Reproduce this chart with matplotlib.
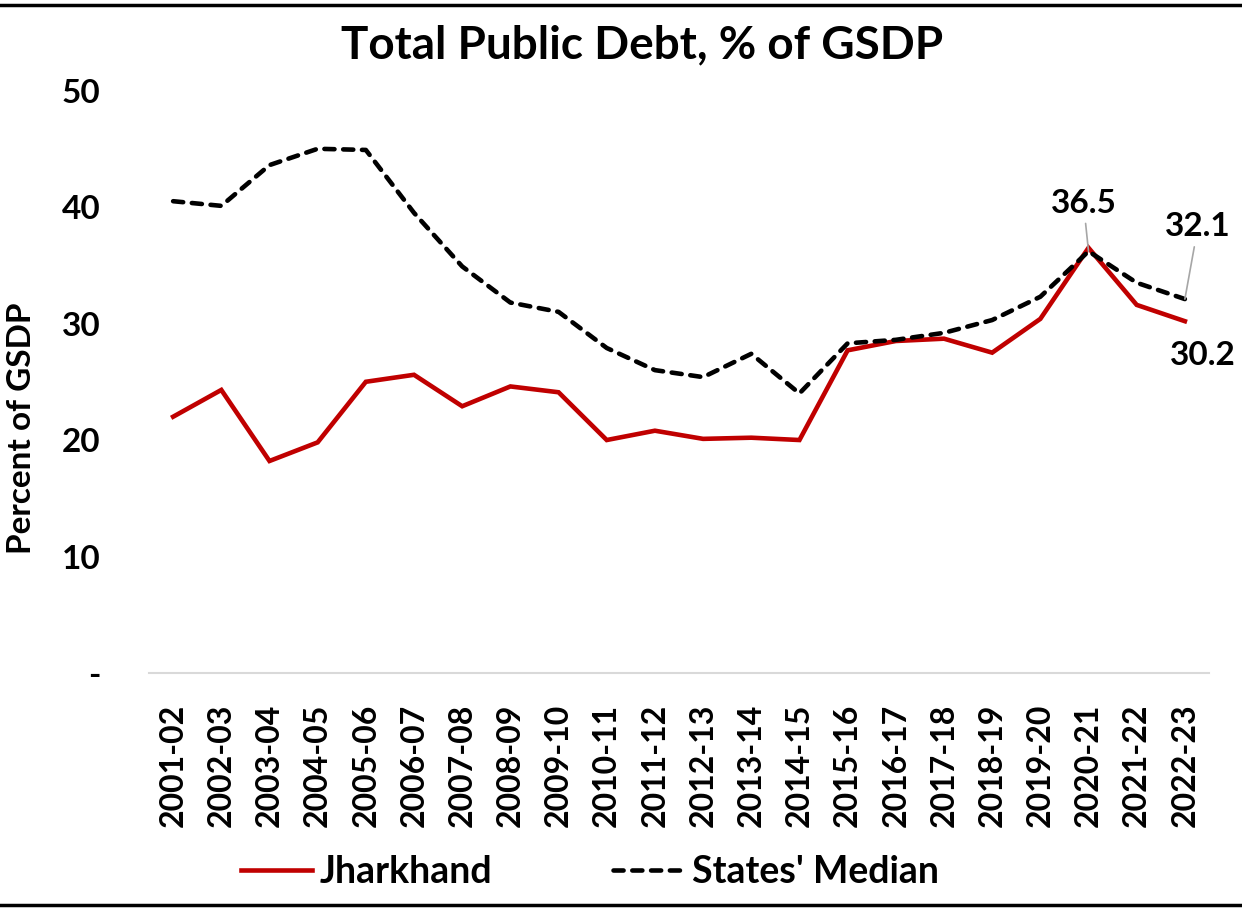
import matplotlib.pyplot as plt
from matplotlib.lines import Line2D

plt.rcParams["font.family"] = ["Lato", "DejaVu Sans"]
plt.rcParams["font.weight"] = "bold"

years = ["2001-02", "2002-03", "2003-04", "2004-05", "2005-06", "2006-07",
         "2007-08", "2008-09", "2009-10", "2010-11", "2011-12", "2012-13",
         "2013-14", "2014-15", "2015-16", "2016-17", "2017-18", "2018-19",
         "2019-20", "2020-21", "2021-22", "2022-23"]

jharkhand = [22.0, 24.3, 18.2, 19.8, 25.0, 25.6, 22.9, 24.6, 24.1, 20.0, 20.8,
             20.1, 20.2, 20.0, 27.7, 28.5, 28.7, 27.5, 30.4, 36.5, 31.6, 30.2]

states_median = [40.5, 40.1, 43.6, 45.0, 44.9, 39.5, 34.9, 31.8, 31.0, 27.9,
                 26.0, 25.4, 27.4, 24.0, 28.3, 28.6, 29.2, 30.3, 32.3, 36.2,
                 33.5, 32.1]

yticks = [0, 10, 20, 30, 40, 50]
ytick_labels = ["-", "10", "20", "30", "40", "50"]

fig = plt.figure(figsize=(12.42, 9.09), dpi=100)
ax = fig.add_axes([0.12, 0.2596, 0.8534, 0.6408])

x = list(range(len(years)))
ax.plot(x, jharkhand, color="#C00000", lw=3.3, label="Jharkhand",
        solid_joinstyle="miter")
ax.plot(x, states_median, color="black", lw=3.3, label="States' Median",
        linestyle=(0, (2.2, 1.9)), dash_capstyle="round")

ax.set_xlim(-0.5, len(years) - 0.5)
ax.set_ylim(0, 50)
ax.set_yticks(yticks)
ax.set_yticklabels(ytick_labels)
ax.set_xticks(x)
ax.set_xticklabels(years, rotation=90)
ax.tick_params(axis="y", length=0, pad=35, labelsize=24)
ax.tick_params(axis="x", length=0, pad=22, labelsize=23)

for s in ["top", "right", "left"]:
    ax.spines[s].set_visible(False)
ax.spines["bottom"].set_color("#D9D9D9")
ax.spines["bottom"].set_linewidth(1.5)

ax.set_ylabel("Percent of GSDP", fontsize=24, fontweight="bold")
ax.yaxis.set_label_coords(-0.107, 0.42)

# data labels
arrow = dict(arrowstyle="-", color="#A6A6A6", lw=1.2, shrinkA=2, shrinkB=0)
ax.annotate(f"{jharkhand[19]:.1f}", (19, states_median[19]),
            xytext=(-3.6, 34.5), textcoords="offset points",
            ha="center", va="center", fontsize=24, arrowprops=arrow)
ax.annotate(f"{states_median[21]:.1f}", (21, states_median[21]),
            xytext=(9.4, 52), textcoords="offset points",
            ha="center", va="center", fontsize=24, arrowprops=arrow)
ax.annotate(f"{jharkhand[21]:.1f}", (21, jharkhand[21]),
            xytext=(13, -24.5), textcoords="offset points",
            ha="center", va="center", fontsize=24, annotation_clip=False)

fig.text(0.517, 0.95, "Total Public Debt, % of GSDP", ha="center",
         va="center", fontsize=33, fontweight="bold")

fig.legend(loc="center", bbox_to_anchor=(0.475, 0.0407), ncol=2,
           frameon=False, fontsize=27, handlelength=1.9,
           handletextpad=0.22, columnspacing=3.2)

# frame lines top and bottom
fig.add_artist(Line2D([0, 1], [1 - 5 / 909, 1 - 5 / 909], color="black",
                      lw=2.5, transform=fig.transFigure))
fig.add_artist(Line2D([0, 1], [1 - 905 / 909, 1 - 905 / 909], color="black",
                      lw=2.5, transform=fig.transFigure))

fig.savefig("out.png", dpi=100)
plt.close(fig)
